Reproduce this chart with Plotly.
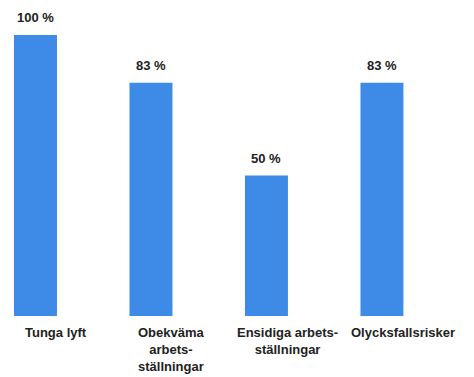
import plotly.graph_objects as go

categories = ["Tunga lyft", "Obekväma<br>arbets-<br>ställningar", "Ensidiga arbets-<br>ställningar", "Olycksfallsrisker"]
values = [100, 83, 50, 83]
value_labels = ["100 %", "83 %", "50 %", "83 %"]

x = list(range(len(categories)))
font_family = "Liberation Sans, Arial, sans-serif"

fig = go.Figure(go.Bar(
    x=x, y=values, width=0.372,
    marker=dict(color="#3d8be6", line=dict(width=0)),
    hoverinfo="skip",
))

annotations = []
for xi, v, lab in zip(x, values, value_labels):
    annotations.append(dict(x=xi, y=v, xref="x", yref="y", text="<b>" + lab + "</b>",
                            showarrow=False, yanchor="bottom", yshift=8,
                            font=dict(family=font_family, size=13, color="#222222")))
for xi, cat in zip(x, categories):
    annotations.append(dict(x=xi, y=0, xref="x", yref="y", text="<b>" + cat + "</b>",
                            showarrow=False, yanchor="top", yshift=-7, xshift=21,
                            align="center",
                            font=dict(family=font_family, size=13, color="#222222")))

fig.update_layout(
    width=466, height=369,
    margin=dict(l=0, r=0, t=0, b=0),
    paper_bgcolor="white", plot_bgcolor="white",
    showlegend=False,
    xaxis=dict(range=[-0.238, 3.797], visible=False, fixedrange=True),
    yaxis=dict(range=[-21.7, 109.6], visible=False, fixedrange=True),
    annotations=annotations,
)

fig.write_html("out.html")
